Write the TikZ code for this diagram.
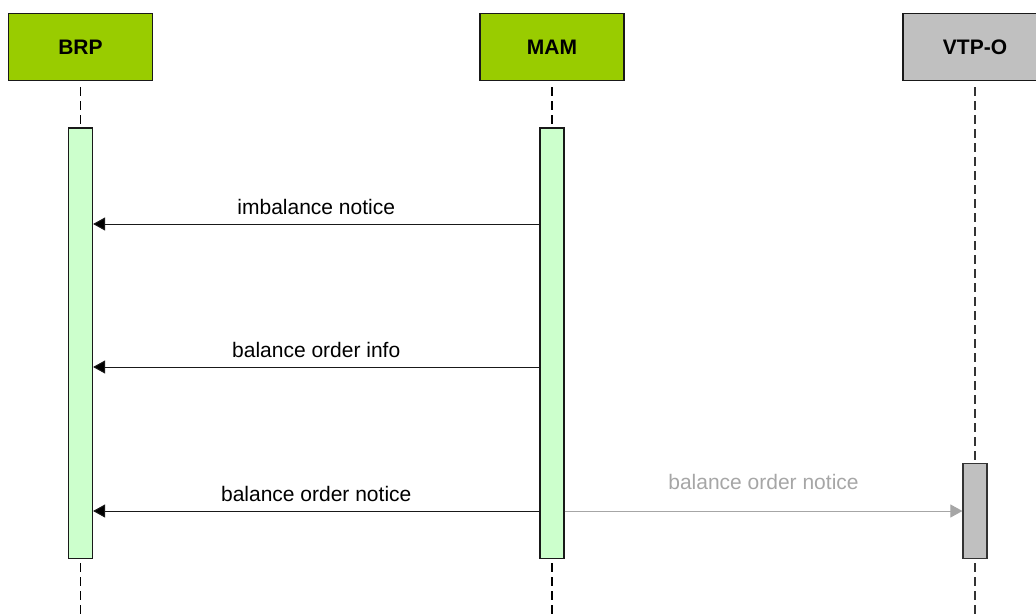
\documentclass[tikz,border=0pt]{standalone}
\usepackage{fontspec}
\setmainfont{Liberation Sans}
\usetikzlibrary{arrows.meta}
\definecolor{actorgreen}{HTML}{99CC00}
\definecolor{actorgray}{HTML}{C0C0C0}
\definecolor{barfill}{HTML}{CCFFCC}
\definecolor{msggray}{HTML}{A6A6A6}
\definecolor{edgegray}{HTML}{333333}
\tikzset{
  actor/.style={draw=black!90, line width=1.4pt, minimum width=144pt, minimum height=67pt,
    inner sep=0pt, font=\fontsize{21}{25}\selectfont\bfseries},
  lifeline/.style={line width=1.2pt, dash pattern=on 9pt off 5pt},
  activation/.style={draw=black!90, line width=1.2pt, minimum width=24pt, inner sep=0pt},
  msg/.style={line width=1pt, draw=black!90, -{Triangle[length=12pt,width=13pt,fill=black]}},
  greymsg/.style={line width=1pt, draw=msggray, -{Triangle[length=12pt,width=13pt]}},
  msglabel/.style={anchor=base, inner sep=0pt, font=\fontsize{21}{25}\selectfont}
}
\begin{document}
\begin{tikzpicture}[x=1pt,y=-1pt]
\useasboundingbox (0,0) rectangle (1036,614);
\clip (0,0) rectangle (1036,614);

% participants
\node[actor, fill=actorgreen] (brp) at (80.5,47.2) {BRP};
\node[actor, fill=actorgreen] (mam) at (552,47.2) {MAM};
\node[actor, fill=actorgray]  (vtp) at (975,47.2) {VTP-O};

% lifeline ends
\coordinate (brpend) at (80.5,614);
\coordinate (mamend) at (552,614);
\coordinate (vtpend) at (975,614);

\draw[lifeline, black] ([yshift=-6pt]brp.south) -- (brpend);
\draw[lifeline, black] ([yshift=-6pt]mam.south) -- (mamend);
\draw[lifeline, edgegray] ([yshift=-6pt]vtp.south) -- (vtpend);

% activation bars
\node[activation, fill=barfill, minimum height=430.7pt] (brpbar) at (80.5,343.35) {};
\node[activation, fill=barfill, minimum height=430.7pt] (mambar) at (552,343.35) {};
\node[activation, fill=actorgray, draw=edgegray, minimum height=95.4pt] (vtpbar) at (975,511) {};

% message rows
\coordinate (row1) at (0,224);
\coordinate (row2) at (0,367);
\coordinate (row3) at (0,511);

\draw[msg] (mambar.west |- row1) -- node[msglabel, above=10pt, anchor=base] (l1) {imbalance notice} (brpbar.east |- row1);
\draw[msg] (mambar.west |- row2) -- node[msglabel, above=10pt, anchor=base] (l2) {balance order info} (brpbar.east |- row2);
\draw[msg] (mambar.west |- row3) -- node[msglabel, above=10pt, anchor=base] (l3) {balance order notice} (brpbar.east |- row3);
\draw[greymsg] (mambar.east |- row3) -- node[msglabel, above=22pt, anchor=base, text=msggray] (l4) {balance order notice} (vtpbar.west |- row3);
\end{tikzpicture}
\end{document}
